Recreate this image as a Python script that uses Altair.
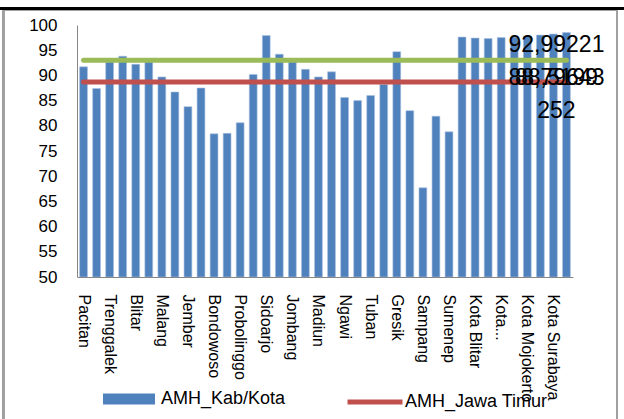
import altair as alt
import pandas as pd

categories = ["Pacitan", "Ponorogo", "Trenggalek", "Tulungagung", "Blitar", "Kediri",
              "Malang", "Lumajang", "Jember", "Banyuwangi", "Bondowoso", "Situbondo",
              "Probolinggo", "Pasuruan", "Sidoarjo", "Mojokerto", "Jombang", "Nganjuk",
              "Madiun", "Magetan", "Ngawi", "Bojonegoro", "Tuban", "Lamongan", "Gresik",
              "Bangkalan", "Sampang", "Pamekasan", "Sumenep", "Kota Kediri", "Kota Blitar",
              "Kota Malang", "Kota Probolinggo", "Kota Pasuruan", "Kota Mojokerto",
              "Kota Madiun", "Kota Surabaya", "Kota Batu"]
amh_kab = [91.7, 87.4, 92.7, 93.8, 92.2, 92.7, 89.7, 86.7, 83.8, 87.5, 78.4, 78.5,
           80.6, 90.2, 97.9, 94.2, 92.7, 91.2, 89.7, 90.7, 85.6, 85.0, 86.0, 88.2, 94.7,
           83.0, 67.7, 81.9, 78.8, 97.6, 97.4, 97.3, 97.5, 97.6, 97.8, 98.0, 98.2, 98.5]
shown_ticks = categories[0::2]
y_ticks = [50, 55, 60, 65, 70, 75, 80, 85, 90, 95, 100]
amh_nasional = 92.99221
amh_jatim = 88.7
label_texts = ["92,99221", "88,79643", "88,5199", "252"]
label_values = [amh_nasional, amh_jatim, amh_jatim, amh_jatim]
label_dy = [-15, -4, -4, 29]

FONT = "Liberation Sans"
first, last = categories[0], categories[-1]

bars_df = pd.DataFrame({"cat": categories, "v": amh_kab, "series": "AMH_Kab/Kota"})
green_df = pd.DataFrame({"cat": [first, last], "v": [amh_nasional] * 2})
red_df = pd.DataFrame({"cat": [first, last], "v": [amh_jatim] * 2, "series": "AMH_Jawa Timur"})

xscale = alt.Scale(domain=categories, paddingInner=0.4, paddingOuter=0.2)
yscale = alt.Scale(domain=[50, 100], nice=False, zero=False)

x_axis = alt.Axis(values=shown_ticks, labelAngle=90, labelFontSize=16, labelFont=FONT,
                  labelColor="black", labelPadding=17, ticks=False, domainColor="#868686",
                  title=None, labelOverlap=False, labelBound=False,
                  labelExpr="datum.value == 'Kota Probolinggo' ? 'Kota...' : datum.value")
y_axis = alt.Axis(values=y_ticks, labelFontSize=17, labelFont=FONT, tickCount=11,
                  labelColor="black", labelPadding=20, ticks=False, domainColor="#868686",
                  grid=False, title=None, labelOverlap=False, labelFlush=False)

X = alt.X("cat:N", scale=xscale, axis=x_axis, sort=categories)

bars = alt.Chart(bars_df).mark_bar(stroke="#A9C1E0", strokeWidth=0.6, clip=True).encode(
    x=X,
    y=alt.Y("v:Q", scale=yscale, axis=y_axis),
    y2=alt.datum(50),
    fill=alt.Fill("series:N", scale=alt.Scale(domain=["AMH_Kab/Kota"], range=["#4F81BD"]),
                  legend=alt.Legend(title=None, orient="none", legendX=26, legendY=348,
                                    symbolType="M-1,-0.21H1V0.21H-1Z", symbolSize=2704,
                                    symbolStrokeWidth=0, labelFontSize=18, labelFont=FONT,
                                    labelColor="black", labelOffset=6, padding=0)),
)

green = alt.Chart(green_df).mark_line(color="#9BBB59", strokeWidth=5, strokeCap="round").encode(
    x=X,
    y=alt.Y("v:Q", scale=yscale, axis=y_axis),
)

red = alt.Chart(red_df).mark_line(strokeWidth=5, strokeCap="round").encode(
    x=X,
    y=alt.Y("v:Q", scale=yscale, axis=y_axis),
    stroke=alt.Stroke("series:N", scale=alt.Scale(domain=["AMH_Jawa Timur"], range=["#C0504D"]),
                      legend=alt.Legend(title=None, orient="none", legendX=268, legendY=347,
                                        symbolType="stroke", symbolSize=3025,
                                        symbolStrokeWidth=5, labelFontSize=18, labelFont=FONT,
                                        labelColor="black", labelOffset=0, padding=0)),
)

label_layers = []
for t, v, dy in zip(label_texts, label_values, label_dy):
    df = pd.DataFrame({"cat": [last], "v": [v], "t": [t]})
    label_layers.append(
        alt.Chart(df).mark_text(fontSize=23, font=FONT, color="black", dx=-10, dy=dy).encode(
            x=X,
            y=alt.Y("v:Q", scale=yscale, axis=y_axis),
            text="t:N",
        )
    )

frame = alt.Chart(bars_df).mark_rect(fill=None, stroke="#A0A0A0", strokeWidth=1.2).encode(
    x=alt.value(-73.5), x2=alt.value(539.7), y=alt.value(-15), y2=alt.value(420)
)
topline = alt.Chart(bars_df).mark_rule(color="black", strokeWidth=2).encode(
    x=alt.value(-77), x2=alt.value(547), y=alt.value(-16.7)
)

chart = alt.layer(frame, topline, bars, green, red, *label_layers).properties(
    width=496, height=252,
    autosize=alt.AutoSizeParams(type="none"),
    padding={"left": 77, "top": 25, "right": 51, "bottom": 142},
    background="white",
).configure_view(stroke=None).configure_axisY(labelOverlap=False)

chart.save("out.html", embed_options={"renderer": "svg", "actions": False})
